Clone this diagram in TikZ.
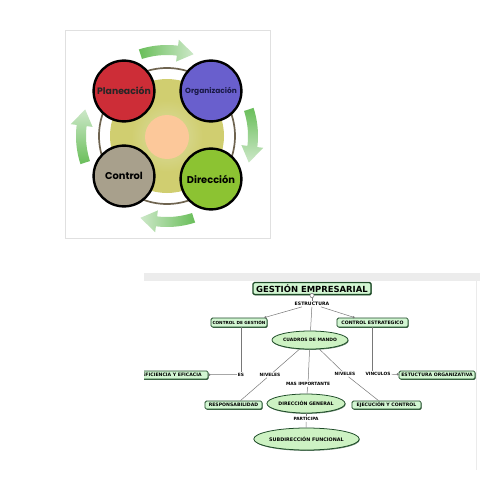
\documentclass[tikz,border=0pt]{standalone}
\usepackage{fontspec}
\setmainfont{Liberation Sans}
\newfontfamily\pop{Poppins}
\newfontfamily\dvs{DejaVu Sans}
\usetikzlibrary{arrows.meta,shapes.geometric,shadows,calc}
\definecolor{planred}{RGB}{205,45,55}
\definecolor{orgblue}{RGB}{105,95,205}
\definecolor{orgtext}{RGB}{25,25,70}
\definecolor{ctrlgray}{RGB}{168,160,140}
\definecolor{dirgreen}{RGB}{140,195,50}
\definecolor{ringc}{RGB}{111,100,80}
\definecolor{olive}{RGB}{208,206,112}
\definecolor{olivelight}{RGB}{220,222,165}
\definecolor{peach}{RGB}{252,200,154}
\definecolor{arrdark}{RGB}{105,190,90}
\definecolor{arrlight}{RGB}{205,232,200}
\definecolor{boxline}{RGB}{30,75,40}
\definecolor{boxfill}{RGB}{210,246,210}
\definecolor{ellfill}{RGB}{205,242,195}
\definecolor{linegray}{RGB}{120,120,120}
\definecolor{stripgray}{RGB}{236,236,236}
\newcommand\tb[1]{\dvs\fontsize{#1}{#1}\selectfont\bfseries}
\newcommand\cycarrow[3]{%
  \shade[#3] plot[domain=#1:#2+11,samples=20] ({167+91*cos(\x)},{136-91*sin(\x)})
    -- ({167+97*cos(#2+11)},{136-97*sin(#2+11)})
    -- ({167+86*cos(#2)},{136-86*sin(#2)})
    -- ({167+75*cos(#2+11)},{136-75*sin(#2+11)})
    -- plot[domain=#2+11:#1,samples=20] ({167+81*cos(\x)},{136-81*sin(\x)})
    -- cycle;}
\begin{document}
\begin{tikzpicture}[x=0.025cm,y=-0.025cm,
  bigc/.style={circle, draw=black, line width=1.7pt, minimum size=1.52cm, inner sep=0pt},
  gbox/.style={rectangle, rounded corners=1pt, draw=boxline, fill=boxfill, line width=0.6pt,
    inner sep=0pt, font=\tb{3.3},
    drop shadow={shadow xshift=0.5pt, shadow yshift=-0.6pt, fill=boxline, opacity=0.9}},
  gell/.style={ellipse, draw=boxline, fill=ellfill, line width=0.55pt, inner sep=0pt, font=\tb{3.35},
    drop shadow={shadow xshift=0.4pt, shadow yshift=-0.6pt, fill=boxline, opacity=0.7}},
  lbl/.style={fill=white, inner sep=0.6pt, font=\tb{3.1}},
  conn/.style={draw=linegray, line width=0.35pt},
  dotend/.style={-{Circle[length=1.5pt]}}
]
\useasboundingbox (0,0) rectangle (480,480);
\fill[white] (0,0) rectangle (480,480);
% ---------- top panel ----------
\draw[black!12, line width=0.6pt, fill=white] (65,30) rectangle (270,238);
\draw[ringc, line width=1.2pt] (167,136) circle[radius=68];
\fill[olive] (167,136) circle[radius=57];
\shade[inner color=olivelight, outer color=olive] (167,136) circle[radius=36];
\fill[peach] (167,137) circle[radius=22];
% cycle arrows (clockwise)
\cycarrow{108}{72}{left color=arrdark, right color=arrlight}
\cycarrow{18}{-18}{top color=arrdark, bottom color=arrlight}
\cycarrow{-72}{-108}{right color=arrdark, left color=arrlight}
\cycarrow{198}{162}{bottom color=arrdark, top color=arrlight}
% circles
\node[bigc, fill=planred, text=black!85, font=\pop\bfseries\fontsize{6.6}{7}\selectfont] (plan) at (124,91) {Planeación};
\node[bigc, fill=orgblue, text=orgtext, font=\pop\bfseries\fontsize{5.3}{6}\selectfont] (org) at (211,91) {Organización};
\node[bigc, fill=ctrlgray, font=\pop\bfseries\fontsize{7}{7}\selectfont] (ctrl) at (124,176) {Control};
\node[bigc, fill=dirgreen, font=\pop\bfseries\fontsize{7}{7}\selectfont] (dir) at (211,179) {Dirección};
% ---------- bottom panel ----------
\fill[stripgray] (144,273) rectangle (480,281);
\draw[black!8, line width=0.5pt] (476,281) -- (476,470);
\begin{scope}
\clip (144,281) rectangle (480,480);
\node[gbox, minimum width=2.95cm, minimum height=0.3cm, line width=0.9pt, font=\tb{6}] (gest) at (312,288.5) {GESTIÓN EMPRESARIAL};
\node[circle, draw=linegray, fill=white, line width=0.4pt, inner sep=0pt, minimum size=3pt] (knob) at (312,295.5) {};
\node[lbl, font=\tb{3.3}] (estr) at (312,304) {ESTRUCTURA};
\node[gbox, minimum width=1.4cm, minimum height=0.225cm, font=\tb{3.0}] (cg) at (239,322.5) {CONTROL DE GESTIÓN};
\node[gbox, minimum width=1.775cm, minimum height=0.225cm] (ce) at (372.5,322.5) {CONTROL ESTRATEGICO};
\node[gell, minimum width=1.575cm, minimum height=0.45cm, font=\tb{3.2}] (cm) at (310,340) {CUADROS DE MANDO};
\node[gbox, minimum width=1.8cm, minimum height=0.2cm] (ef) at (172,375) {EFICIENCIA Y EFICACIA};
\node[gbox, minimum width=1.9cm, minimum height=0.2cm] (eo) at (437,375) {ESTUCTURA ORGANIZATIVA};
\node[gbox, minimum width=1.425cm, minimum height=0.2cm] (resp) at (233.5,405) {RESPONSABILIDAD};
\node[gell, minimum width=1.55cm, minimum height=0.475cm] (dg) at (306,403.5) {DIRECCIÓN GENERAL};
\node[gbox, minimum width=1.725cm, minimum height=0.2cm] (ejec) at (386.5,405) {EJECUCIÓN Y CONTROL};
\node[gell, minimum width=2.025cm, minimum height=0.55cm, font=\tb{3.45}] (sub) at (306.5,439) {SUBDIRECCIÓN FUNCIONAL};
\node[lbl] (es) at (241,374.5) {ES};
\node[lbl] (niv1) at (270,375) {NIVELES};
\node[lbl] (niv2) at (345,374) {NIVELES};
\node[lbl] (vinc) at (378,374) {VINCULOS};
\node[lbl] (masimp) at (308,384) {MAS IMPORTANTE};
\node[lbl] (part) at (306,419) {PARTICIPA};
% connectors
\draw[conn] (knob) -- (estr);
\draw[conn, dotend] (estr) -- ($(cg.north east)+(-3,0)$);
\draw[conn, dotend] (estr) -- ($(ce.north west)+(18,0)$);
\draw[conn] (estr) -- (cm);
\draw[conn] (cg.south -| es.north) -- (es.north);
\draw[conn, dotend] (es) -- (ef);
\draw[conn] (ce.south) -- (ce.south |- vinc.north);
\draw[conn, dotend] (vinc) -- (eo);
\draw[conn] (cm) -- (niv1);
\draw[conn] (niv1) -- ($(resp.north)+(7,0)$);
\draw[conn] (cm) -- (niv2);
\draw[conn] (niv2) -- ($(ejec.north)+(-8,0)$);
\draw[conn] (cm) -- (masimp);
\draw[conn] (masimp) -- (dg);
\draw[conn] (dg) -- (part);
\draw[conn] (part) -- (sub);
\end{scope}
\end{tikzpicture}
\end{document}
